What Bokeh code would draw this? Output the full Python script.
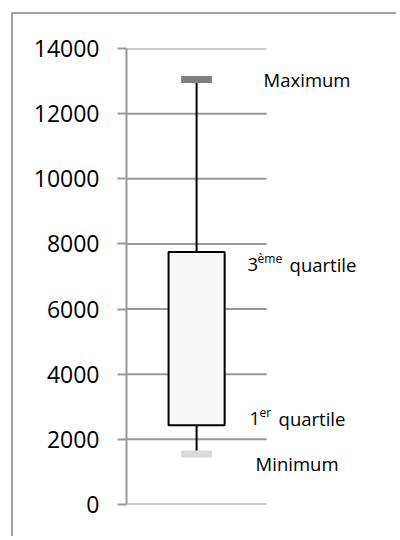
from bokeh.plotting import figure
from bokeh.models import Range1d, FixedTicker, ColumnDataSource
from bokeh.core.properties import value
from bokeh.embed import file_html
from bokeh.resources import INLINE

# ---- data ----
categories = ["Série 1"]
minimum = [1550]
q1 = [2430]
q3 = [7750]
maximum = [13050]
y_ticks = [0, 2000, 4000, 6000, 8000, 10000, 12000, 14000]

FONT = "Open Sans"
GRID = "#999999"

# one unit-wide slot per category; extra room on the right for the labels
xs = [i + 0.5 for i in range(len(categories))]
n_slots = len(categories)
x_end = n_slots * 1.94

p = figure(
    x_range=Range1d(0, x_end),
    y_range=Range1d(0, 14000),
    width=385, height=524,
    output_backend="svg", toolbar_location=None,
    x_axis_location=None,
    min_border_left=113, min_border_right=0,
    min_border_top=34, min_border_bottom=34,
)
p.styles = {
    "margin-left": "11px", "margin-top": "12px",
    "border-left": "2px solid #a3a3a3", "border-top": "2px solid #a3a3a3",
}
p.outline_line_color = None
p.background_fill_color = "white"
p.border_fill_color = "white"

p.xgrid.visible = False
p.ygrid.visible = False

ax = p.yaxis[0]
ax.ticker = FixedTicker(ticks=y_ticks)
ax.axis_line_color = GRID
ax.axis_line_width = 2
ax.major_tick_line_color = GRID
ax.major_tick_line_width = 2
ax.major_tick_out = 9
ax.major_tick_in = 0
ax.minor_tick_line_color = None
ax.major_label_text_font = FONT
ax.major_label_text_font_size = "23px"
ax.major_label_text_color = "black"
ax.major_label_standoff = 18

# horizontal gridlines spanning the category slots only
grid_src = ColumnDataSource(dict(y=y_ticks, x0=[0] * len(y_ticks), x1=[n_slots] * len(y_ticks)))
p.segment(x0="x0", y0="y", x1="x1", y1="y", source=grid_src, line_color=GRID, line_width=2)

src = ColumnDataSource(dict(x=xs, mn=minimum, q1=q1, q3=q3, mx=maximum))

# whiskers
p.segment(x0="x", y0="q3", x1="x", y1="mx", source=src, line_color="black", line_width=2)
p.segment(x0="x", y0="q1", x1="x", y1="mn", source=src, line_color="black", line_width=2)
# box
p.vbar(x="x", bottom="q1", top="q3", width=0.4, source=src,
       fill_color="#f8f8f8", line_color="black", line_width=2)
# max / min markers
p.rect(x="x", y="mx", width=0.22, height=7, height_units="screen", source=src,
       fill_color="#808080", line_color=None)
p.rect(x="x", y="mn", width=0.22, height=7, height_units="screen", source=src,
       fill_color="#d9d9d9", line_color=None)

def label(text, ycol, xo, yo, size):
    p.text(x="x", y=ycol, text=value(text), source=src, x_offset=xo, y_offset=yo,
           text_font=value(FONT), text_font_size=value(size), text_color="black",
           text_align="left", text_baseline="alphabetic")

label("Maximum", "mx", 67, 0, "18.5px")
label("3", "q3", 51, 12, "18.5px")
label("ème", "q3", 61, 6, "12px")
label("quartile", "q3", 93, 12, "18.5px")
label("1", "q1", 53, -7, "18.5px")
label("er", "q1", 63, -13, "12px")
label("quartile", "q1", 82, -7, "18.5px")
label("Minimum", "mn", 59, 9, "18.5px")

open("out.html", "w").write(file_html(p, INLINE))
